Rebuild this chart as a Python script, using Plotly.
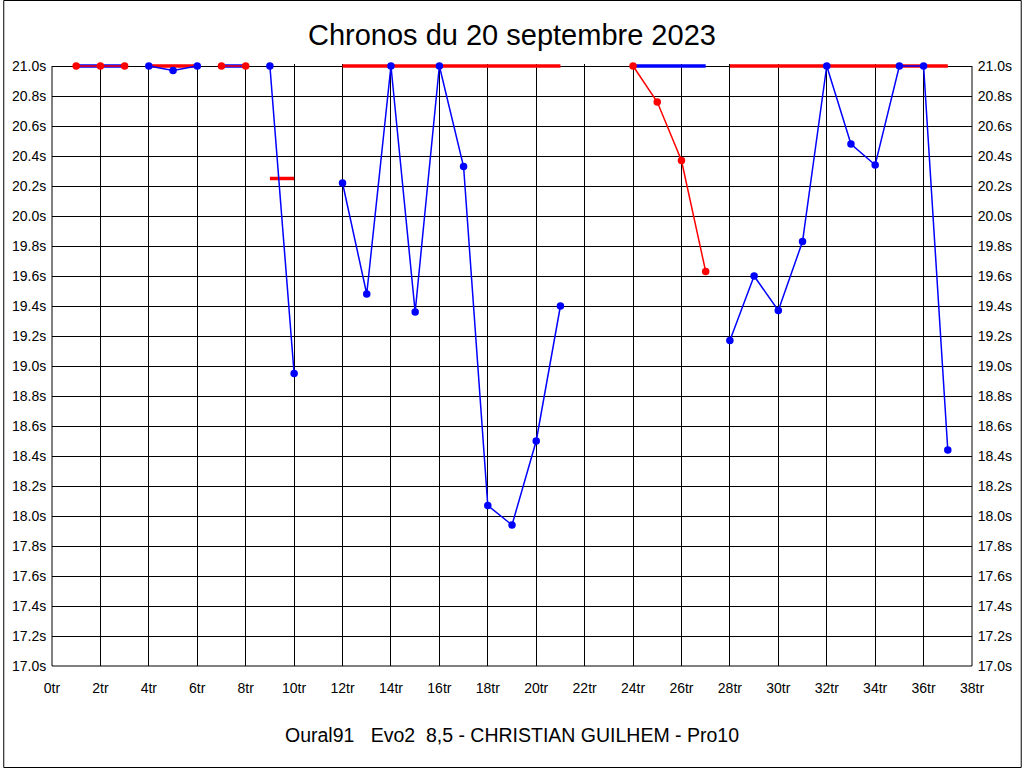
import plotly.graph_objects as go

# ---- data ----
laps = list(range(1, 38))

# lap times drawn as dots + thin line
blue_times = [None, None, None, 21.0, 20.97, 21.0, None, None, 21.0, 18.95, None,
              20.22, 19.48, 21.0, 19.36, 21.0, 20.33, 18.07, 17.94, 18.50, 19.40,
              None, None, None, None, None, None,
              19.17, 19.60, 19.37, 19.83, 21.0, 20.48, 20.34, 21.0, 21.0, 18.44]
red_times = [21.0, 21.0, 21.0, None, None, None, 21.0, 21.0, None, None, None,
             None, None, None, None, None, None, None, None, None, None,
             None, None, 21.0, 20.76, 20.37, 19.63,
             None, None, None, None, None, None, None, None, None, None]

# thick reference lines per run
blue_ref = [21.0, 21.0, 21.0, None, None, None, 21.0, 21.0, None, None, None,
            None, None, None, None, None, None, None, None, None, None,
            None, None, 21.0, 21.0, 21.0, 21.0,
            None, None, None, None, None, None, None, None, None, None]
red_ref = [None, None, None, 21.0, 21.0, 21.0, None, None, 20.25, 20.25, None,
           21.0, 21.0, 21.0, 21.0, 21.0, 21.0, 21.0, 21.0, 21.0, 21.0,
           None, None, None, None, None, None,
           21.0, 21.0, 21.0, 21.0, 21.0, 21.0, 21.0, 21.0, 21.0, 21.0]

title_text = "Chronos du 20 septembre 2023"
subtitle_text = "Oural91\u00a0\u00a0\u00a0Evo2\u00a0\u00a08,5 - CHRISTIAN GUILHEM - Pro10"

BLUE = "#0000FF"
RED = "#FF0000"
FONT = "Liberation Sans, Arial, sans-serif"

fig = go.Figure()
fig.add_trace(go.Scatter(x=laps, y=blue_ref, mode="lines", line=dict(color=BLUE, width=3.5),
                         connectgaps=False, hoverinfo="skip", cliponaxis=False))
fig.add_trace(go.Scatter(x=laps, y=red_ref, mode="lines", line=dict(color=RED, width=3.5),
                         connectgaps=False, hoverinfo="skip", cliponaxis=False))
fig.add_trace(go.Scatter(x=laps, y=blue_times, mode="lines+markers",
                         line=dict(color=BLUE, width=1.5), marker=dict(color=BLUE, size=7.5),
                         connectgaps=False, cliponaxis=False))
fig.add_trace(go.Scatter(x=laps, y=red_times, mode="lines+markers",
                         line=dict(color=RED, width=1.5), marker=dict(color=RED, size=7.5),
                         connectgaps=False, cliponaxis=False))
# invisible trace to anchor the right-hand axis
fig.add_trace(go.Scatter(x=laps, y=blue_times, yaxis="y2", mode="lines",
                         line=dict(color="rgba(0,0,0,0)"), hoverinfo="skip"))

# plot area in pixels; the top is 2 px above the 21.0 line so thick lines are not clipped
L, R, T, B = 49, 974, 64, 666
Y21 = 66
W = R - L
H = B - T
YMIN, YMAX = 17.0, 21.0 + (Y21 - T) / 150.0

def px(x):
    return (x - L) / W

def py(y):
    return (B - y) / H

yaxis_common = dict(range=[YMIN, YMAX], dtick=0.2, tick0=17.0, tickformat=".1f", ticksuffix="s",
                    tickfont=dict(family=FONT, size=14, color="black"),
                    showline=False, zeroline=False,
                    ticks="outside", ticklen=2, tickcolor="rgba(0,0,0,0)",
                    layer="below traces")

frame = dict(type="line", xref="paper", yref="paper", line=dict(color="black", width=1),
             layer="below")

fig.update_layout(
    width=1024, height=768, autosize=False,
    margin=dict(l=L, r=1024 - R, t=T, b=768 - B, pad=0),
    paper_bgcolor="white", plot_bgcolor="white",
    showlegend=False,
    font=dict(family=FONT, color="black"),
    xaxis=dict(range=[0, 38], dtick=2, tick0=0, ticksuffix="tr",
               tickfont=dict(family=FONT, size=14, color="black"),
               showgrid=True, gridcolor="black", gridwidth=1,
               showline=False, zeroline=False,
               ticks="outside", ticklen=9, tickcolor="rgba(0,0,0,0)",
               layer="below traces"),
    yaxis=dict(showgrid=True, gridcolor="black", gridwidth=1, side="left", **yaxis_common),
    yaxis2=dict(overlaying="y", side="right", showgrid=False, **yaxis_common),
    annotations=[
        dict(text=title_text, xref="paper", yref="paper", x=px(512), y=py(35),
             xanchor="center", yanchor="middle", showarrow=False,
             font=dict(family=FONT, size=29, color="black")),
        dict(text=subtitle_text, xref="paper", yref="paper", x=px(512), y=py(735),
             xanchor="center", yanchor="middle", showarrow=False,
             font=dict(family=FONT, size=19.5, color="black")),
    ],
    shapes=[
        dict(frame, x0=0, x1=0, y0=0, y1=py(Y21)),
        dict(frame, x0=1, x1=1, y0=0, y1=py(Y21)),
        dict(frame, x0=0, x1=1, y0=0, y1=0),
        dict(type="rect", xref="paper", yref="paper",
             x0=px(0.5), x1=px(1023.5), y0=py(767.5), y1=py(0.5),
             line=dict(color="black", width=1), fillcolor="rgba(0,0,0,0)", layer="above"),
    ],
)

fig.write_html(
    "out.html",
    config={"displayModeBar": False},
    post_script="document.body.style.margin='0';document.body.style.padding='0';"
                "document.body.style.overflow='hidden';",
)
